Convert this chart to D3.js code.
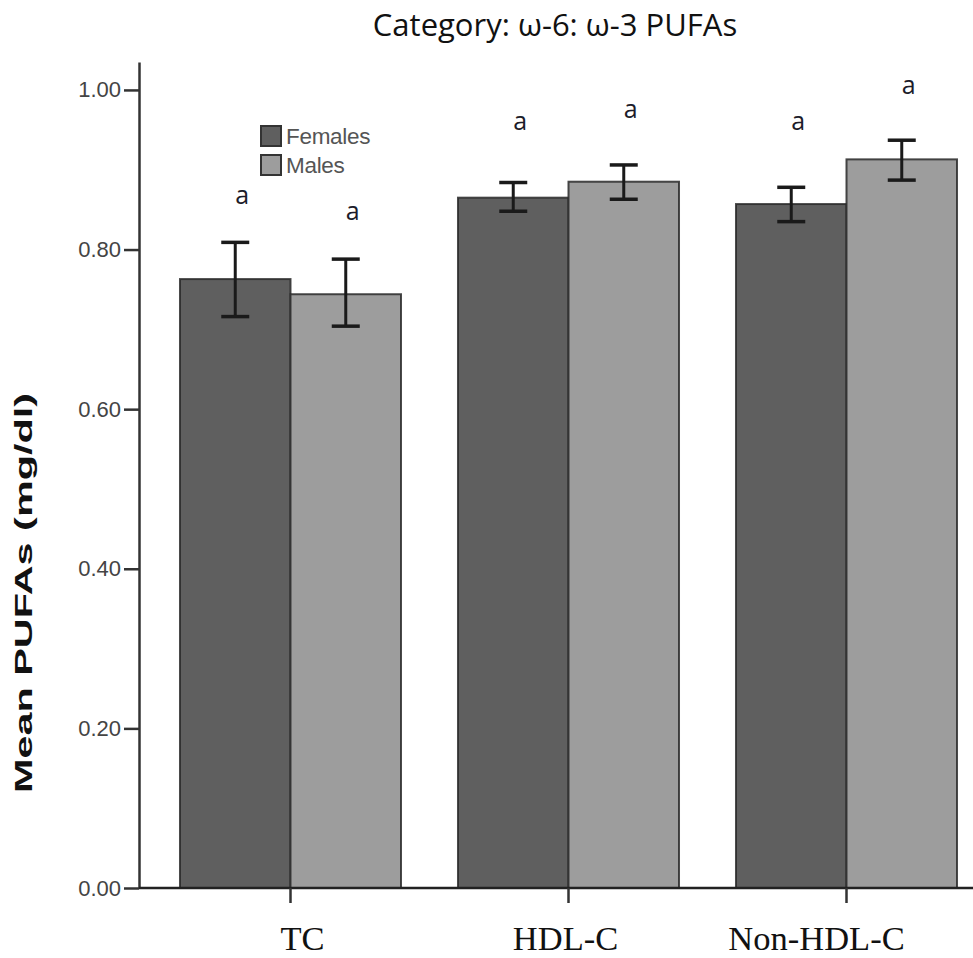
<!DOCTYPE html>
<html>
<head>
<meta charset="utf-8">
<script src="https://cdn.jsdelivr.net/npm/d3@7"></script>
<style>
  html, body { margin: 0; padding: 0; background: #fff; }
  svg { display: block; }
</style>
</head>
<body>
<script>
const categories = ["TC", "HDL-C", "Non-HDL-C"];
const seriesNames = ["Females", "Males"];
const femaleMeans = [0.763, 0.865, 0.857];
const femaleLow   = [0.716, 0.848, 0.835];
const femaleHigh  = [0.809, 0.884, 0.878];
const maleMeans   = [0.744, 0.885, 0.913];
const maleLow     = [0.704, 0.863, 0.887];
const maleHigh    = [0.788, 0.906, 0.937];
const femaleLetters = ["a", "a", "a"];
const maleLetters   = ["a", "a", "a"];
const femaleLetterPos = [0.857, 0.950, 0.950];
const maleLetterPos   = [0.837, 0.965, 0.995];
const yTicks = [0, 0.2, 0.4, 0.6, 0.8, 1.0];
const titleText = "Category: ω-6: ω-3 PUFAs";
const yTitle = "Mean PUFAs (mg/dl)";

const W = 973, H = 958;
const colors = { Females: "#5f5f5f", Males: "#9d9d9d" };
// layout nudges for category labels (pixels), as in the original figure
const labelNudge = { "TC": 12, "HDL-C": -3, "Non-HDL-C": -30 };

const svg = d3.select("body").append("svg").attr("width", W).attr("height", H);

const y = d3.scaleLinear().domain([0, 1.035]).range([888, 62]);
const x0 = d3.scaleBand().domain(categories).range([151.5, 985.5])
  .paddingInner(0.205).paddingOuter(0.1025);
const x1 = d3.scaleBand().domain(seriesNames).range([0, x0.bandwidth()]);

const rows = categories.map((c, i) => ({
  cat: c,
  vals: [
    { s: "Females", v: femaleMeans[i], lo: femaleLow[i], hi: femaleHigh[i], letter: femaleLetters[i], lp: femaleLetterPos[i] },
    { s: "Males", v: maleMeans[i], lo: maleLow[i], hi: maleHigh[i], letter: maleLetters[i], lp: maleLetterPos[i] }
  ]
}));

// title
svg.append("text").attr("x", 555).attr("y", 36)
  .attr("text-anchor", "middle")
  .attr("font-family", "'Open Sans', sans-serif").attr("font-size", 31)
  .attr("fill", "#111").text(titleText);

// bars
const g = svg.append("g");
const groups = g.selectAll("g.grp").data(rows).join("g")
  .attr("transform", d => `translate(${x0(d.cat)},0)`);

groups.selectAll("rect").data(d => d.vals).join("rect")
  .attr("x", d => x1(d.s))
  .attr("y", d => y(d.v))
  .attr("width", x1.bandwidth())
  .attr("height", d => y(0) - y(d.v))
  .attr("fill", d => colors[d.s])
  .attr("stroke", "#2a2a2a").attr("stroke-opacity", 0.85).attr("stroke-width", 2);

// error bars
const capW = 28;
const eb = groups.selectAll("g.eb").data(d => d.vals).join("g").attr("class", "eb");
eb.append("line")
  .attr("x1", d => x1(d.s) + x1.bandwidth() / 2).attr("x2", d => x1(d.s) + x1.bandwidth() / 2)
  .attr("y1", d => y(d.lo)).attr("y2", d => y(d.hi))
  .attr("stroke", "#1a1a1a").attr("stroke-width", 3);
eb.append("line")
  .attr("x1", d => x1(d.s) + x1.bandwidth() / 2 - capW / 2).attr("x2", d => x1(d.s) + x1.bandwidth() / 2 + capW / 2)
  .attr("y1", d => y(d.hi)).attr("y2", d => y(d.hi))
  .attr("stroke", "#1a1a1a").attr("stroke-width", 3.5);
eb.append("line")
  .attr("x1", d => x1(d.s) + x1.bandwidth() / 2 - capW / 2).attr("x2", d => x1(d.s) + x1.bandwidth() / 2 + capW / 2)
  .attr("y1", d => y(d.lo)).attr("y2", d => y(d.lo))
  .attr("stroke", "#1a1a1a").attr("stroke-width", 3.5);

// letters
groups.selectAll("text.letter").data(d => d.vals).join("text").attr("class", "letter")
  .attr("x", d => x1(d.s) + x1.bandwidth() / 2 + 7)
  .attr("y", d => y(d.lp))
  .attr("text-anchor", "middle")
  .attr("font-family", "'Open Sans', sans-serif").attr("font-size", 25)
  .attr("fill", "#1c1c2a").text(d => d.letter);

// y axis
const yAxis = d3.axisLeft(y).tickValues(yTicks).tickFormat(d3.format(".2f"))
  .tickSize(15).tickSizeOuter(0).tickPadding(3);
const ya = svg.append("g").attr("transform", "translate(139,0)").call(yAxis);
ya.select(".domain").attr("stroke", "#333").attr("stroke-width", 2.5);
ya.selectAll(".tick line").attr("stroke", "#333").attr("stroke-width", 2.5);
ya.selectAll(".tick text").attr("font-family", "'Liberation Sans', Arial, sans-serif")
  .attr("font-size", 22).attr("fill", "#444");

// x axis
const xa = svg.append("g").attr("transform", "translate(0,888)");
xa.append("line").attr("x1", 139).attr("x2", W).attr("y1", 0).attr("y2", 0)
  .attr("stroke", "#222").attr("stroke-width", 2.5);
xa.selectAll("line.tk").data(categories).join("line").attr("class", "tk")
  .attr("x1", d => x0(d) + x0.bandwidth() / 2).attr("x2", d => x0(d) + x0.bandwidth() / 2)
  .attr("y1", 0).attr("y2", 15).attr("stroke", "#333").attr("stroke-width", 2.5);
xa.selectAll("text").data(categories).join("text")
  .attr("x", d => x0(d) + x0.bandwidth() / 2 + labelNudge[d])
  .attr("y", 62)
  .attr("text-anchor", "middle")
  .attr("font-family", "'Liberation Serif', 'Times New Roman', serif").attr("font-size", 34.5)
  .attr("fill", "#111").text(d => d);

// y title
svg.append("text")
  .attr("transform", "translate(32,593) rotate(-90)")
  .attr("text-anchor", "middle")
  .attr("font-family", "'Liberation Sans', Arial, sans-serif").attr("font-weight", "bold")
  .attr("font-size", 24).attr("fill", "#111")
  .attr("textLength", 400).attr("lengthAdjust", "spacingAndGlyphs")
  .text(yTitle);

// legend
const leg = svg.append("g").attr("transform", "translate(261,126)");
const li = leg.selectAll("g").data(seriesNames).join("g")
  .attr("transform", (d, i) => `translate(0,${i * 29})`);
li.append("rect").attr("width", 20).attr("height", 20)
  .attr("fill", d => colors[d]).attr("stroke", "#333").attr("stroke-width", 2);
li.append("text").attr("x", 25).attr("y", 18)
  .attr("font-family", "'Liberation Sans', Arial, sans-serif").attr("font-size", 22.5)
  .attr("fill", "#555").attr("letter-spacing", -0.3).text(d => d);
</script>
</body>
</html>
